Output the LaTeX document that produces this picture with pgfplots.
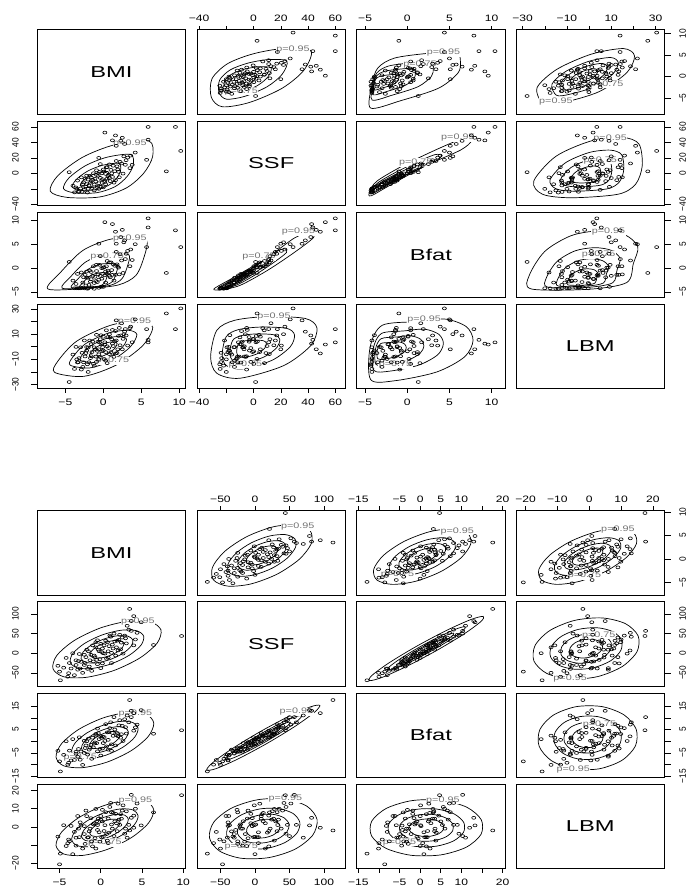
\documentclass[border=0pt]{standalone}
\usepackage{fontspec}
\usepackage{pgfplots}
\usepackage{pgfplotstable}
\pgfplotsset{compat=1.18}
\newfontfamily\fwide{Liberation Sans}[FakeStretch=1.3]
\newfontfamily\fdiag{Liberation Sans}[FakeStretch=1.5]
\newfontfamily\frot{Liberation Sans}[FakeStretch=0.9]
\newfontfamily\fpl{Liberation Sans}[FakeStretch=1.35]

\pgfplotsset{
 pan/.style={scale only axis, width=148.4bp, height=84.3bp, anchor=north west,
   xtick=\empty, ytick=\empty, axis line style={line width=0.75bp}, clip mode=individual},
 ct/.style={black, line width=0.7bp, smooth cycle, no markers},
 pts/.style={only marks, mark=o, mark size=1.45bp, mark options={xscale=1.4, line width=0.6bp, black, solid}},
}
\tikzset{
 tk/.style={line width=0.6bp},
 hl/.style={font=\fwide\fontsize{9.3bp}{11bp}\selectfont, inner sep=0pt},
 vl/.style={font=\frot\fontsize{9.3bp}{11bp}\selectfont, inner sep=0pt, rotate=90},
 pl/.style={font=\fpl\fontsize{8bp}{9bp}\selectfont, text=black!55, inner sep=0.5pt, fill=white},
 dg/.style={font=\fdiag\fontsize{15.8bp}{18bp}\selectfont},
}
\newcommand\xtop[3]{%
 \draw[tk] foreach \tkv in {#2} {(axis cs:\tkv,#1) -- ([yshift=4.3bp]axis cs:\tkv,#1)};
 \path foreach \tkv/\tkl in {#3} {([yshift=8.6bp]axis cs:\tkv,#1) node[hl,anchor=base] {\tkl}};}
\newcommand\xbot[3]{%
 \draw[tk] foreach \tkv in {#2} {(axis cs:\tkv,#1) -- ([yshift=-5bp]axis cs:\tkv,#1)};
 \path foreach \tkv/\tkl in {#3} {([yshift=-16.7bp]axis cs:\tkv,#1) node[hl,anchor=base] {\tkl}};}
\newcommand\yleft[3]{%
 \draw[tk] foreach \tkv in {#2} {(axis cs:#1,\tkv) -- ([xshift=-6.7bp]axis cs:#1,\tkv)};
 \path foreach \tkv/\tkl in {#3} {([xshift=-18.7bp]axis cs:#1,\tkv) node[vl,anchor=base] {\tkl}};}
\newcommand\yright[3]{%
 \draw[tk] foreach \tkv in {#2} {(axis cs:#1,\tkv) -- ([xshift=6.5bp]axis cs:#1,\tkv)};
 \path foreach \tkv/\tkl in {#3} {([xshift=21.5bp]axis cs:#1,\tkv) node[vl,anchor=base] {\tkl}};}

% ranges
\def\tbmin{-8.7}\def\tbmax{10.85}
\def\tsmin{-41.5}\def\tsmax{67.4}
\def\tfmin{-6.0}\def\tfmax{11.6}
\def\tlmin{-33}\def\tlmax{34}
\def\bbmin{-7.7}\def\bbmax{10.3}
\def\bsmin{-84}\def\bsmax{131}
\def\bfmin{-15.4}\def\bfmax{20.6}
\def\blmin{-23}\def\blmax{23.6}

% ---------------- data: top (b = BMI, s = SSF, f = Bfat, l = LBM)
\pgfplotstableread{
b s f l
-4.0 -16 -2.6 -6.2
-3.8 -24.5 -4.2 -17.6
-3.6 -18.2 -3.3 -0.1
-3.4 -9.3 -1.2 -12.5
-3.2 -23.4 -4.2 -9.0
-3.0 -19.5 -4.2 -0.4
-2.9 -5.1 -0.9 -18.1
-2.8 -23.8 -4.1 -4.8
-2.6 -11.7 -1.9 -12.3
-2.5 -21.3 -4.2 5.0
-2.4 -6.8 -1.4 -7.7
-2.2 -13.9 -2.0 -0.2
-2.1 -24.8 -4.3 -13.9
-2.0 -8.0 -2.0 -0.6
-1.9 -15.6 -3.5 -12.3
-1.8 -3.1 -0.5 5.0
-1.6 -5.2 -0.8 -7.5
-1.5 -18.8 -4.0 -4.2
-1.4 -8.3 -1.6 4.1
-1.3 0.2 0.4 -13.6
-1.2 -14.4 -3.1 -0.4
-1.0 -10.5 -2.7 -7.8
-0.9 4.0 0.7 9.5
-0.8 -17.6 -2.9 -3.2
-0.7 -3.2 -1.3 4.0
-0.6 -12.7 -2.4 -9.7
-0.5 1.8 0.7 3.6
-0.4 -5.8 -1.6 -8.1
-0.3 -17.4 -3.9 9.2
-0.2 0.1 0.0 -3.6
-0.1 -7.5 -1.2 -0.3
0.0 5.0 0.1 8.0
0.1 2.5 0.2 -9.7
0.2 -11.1 -1.5 3.6
0.3 -0.7 -0.7 -4.2
0.4 7.8 0.4 13.1
0.5 -6.8 -1.2 0.4
0.6 -3.3 -0.5 7.7
0.8 11.6 1.2 -5.8
0.9 -10.0 -1.9 7.5
1.0 4.5 1.2 -4.2
1.2 -4.6 -1.4 13.4
1.3 9.9 0.8 0.6
1.5 2.8 0.5 4.2
1.6 -8.8 -1.4 12.5
1.8 9.1 0.8 -5.0
2.0 2.0 0.1 8.6
2.2 14.9 2.9 1.2
2.4 12.8 1.6 18.7
2.6 -0.3 -1.0 6.3
2.9 11.1 1.9 14.1
3.2 20.4 3.6 1.0
3.5 6.8 0.4 14.8
3.8 11.1 1.7 3.6
4.2 26.9 5.0 21.8
-3.3 -24.0 -4.2 -12.2
-2.3 -17 -3.6 -5
-1.7 -12 -2.8 -9
-1.1 -7 -1.8 -2
-0.6 -20 -4.1 -6
-0.2 -9 -2.2 2
0.3 -14 -3.0 -11
0.7 -2 -0.9 -1
1.1 0 -0.4 6
1.4 -12 -2.6 -8
-2.7 -14 -3.0 -16
-3.5 -20 -4.2 -10
-1.2 -22 -4.3 -15
0.0 -18 -3.9 -3
0.8 -6 -1.6 10
1.9 5 0.3 -2
2.1 -5 -1.3 15
-0.9 -2 -0.6 -12
-1.6 -10 -2.3 2
-2.2 -3 -0.7 -3
0.5 8 1.5 -13
1.7 16 3.4 5
-0.4 12 2.5 6
3.0 17 3.0 9
-2.0 -20 -4.2 -20
10.2 29 4.4 30.5
9.5 60 7.9 14
5.9 60 10.4 3.5
8.3 2.6 -1.0 26.5
0.2 52.7 9.6 1.8
-4.5 1.5 1.3 -28
1.2 42.6 9.2 2.5
5.9 43.5 8.5 5.5
1.6 49 7.6 -5.3
1.7 35.6 5.1 21
5.7 17.5 4.4 14
2.7 22 5.4 10
-0.6 20 5.1 -2
3.6 23 3.9 16
2.8 38 5.8 12
2.3 42 6.5 9
2.5 46 8.0 -2
}\topdata

% ---------------- data: bottom
\pgfplotstableread{
b s f l
-5.2 -32 -4.1 -5.4
-4.9 -69 -12.9 -14.8
-4.5 -37 -5.8 0.9
-4.2 -12 0.0 -10.6
-3.9 -51 -9.2 -7.0
-3.6 -39 -8.2 0.5
-3.4 0 0.9 -15.1
-3.2 -56 -8.0 -2.8
-3.0 -18 -4.5 -10.4
-2.8 -42 -6.6 6.0
-2.6 -2 1.7 -5.7
-2.4 -22 -4.4 0.7
-2.2 -50 -10.1 -12.0
-2.0 -4 0.2 0.4
-1.9 -25 -2.9 -9.4
-1.7 9 0.0 5.9
-1.5 5 1.1 -5.7
-1.4 -34 -3.6 -2.5
-1.2 -4 -1.5 4.8
-1.0 20 1.5 -10.8
-0.9 -21 -2.6 1.4
-0.7 -10 -0.5 -6.3
-0.6 28 3.1 9.9
-0.4 -28 -4.3 -1.7
-0.3 9 3.5 4.5
-0.1 -15 -3.3 -8.2
0.0 24 2.2 4.0
0.1 3 1.4 -5.8
0.2 -26 -3.1 9.4
0.4 20 1.8 -2.3
0.5 -1 0.1 0.9
0.6 32 7.3 8.1
0.8 28 3.8 -7.6
0.9 -11 -3.6 4.6
1.0 18 3.9 -3.2
1.2 42 8.1 13.2
1.3 1 -1.3 1.3
1.5 12 2.3 7.7
1.6 50 10.3 -5.1
1.8 -6 -1.8 7.2
2.0 32 3.5 -2.4
2.1 7 2.1 12.8
2.3 47 9.0 1.1
2.5 27 3.0 4.5
2.7 -1 0.1 11.9
2.9 45 9.4 -3.8
3.1 25 3.3 8.6
3.4 60 8.1 1.1
3.7 57 10.3 17.7
4.0 20 4.5 6.2
4.4 52 7.1 12.9
4.9 79 13.3 0.8
-0.5 -17 -0.8 3.1
0.3 0 -0.8 -5.5
1.1 45 5.6 11.0
-1.6 -40 -5.7 -5.9
2.2 34 6.8 4.0
-2.5 -39 -7.9 2.5
-2.0 -30 -5.0 -4
-1.3 -18 -2.8 -1
-0.8 -6 -1.0 2
-0.2 5 0.9 -3
0.2 12 2.0 3
0.7 -14 -2.2 -4
1.4 22 3.6 -1
1.9 15 2.6 2
-1.1 -45 -7.5 -8
-3.0 -30 -5.3 -6
2.6 40 6.6 9
0.0 -38 -6.1 6
-0.6 15 2.4 -12
1.7 30 5.0 3
-2.7 -20 -3.3 -1
3.0 38 6.0 -1
-1.8 -10 -1.8 9
0.9 5 0.6 -9
2.4 10 1.5 7
-3.8 -25 -4.0 -8
-0.4 33 5.4 1
1.3 -25 -4.1 8
4.2 35 5.9 10
-4.0 -60 -10.0 -9
9.8 44 4.7 17.5
3.5 113 17.6 -2
-5.0 -47 -8.6 -20.7
4.0 94.6 12 -0.5
6.4 21 3.2 8
3.7 82 13 5
3.2 70 11 -6
}\botdata

% ---------------- contours, top matrix (x = column variable of lower panel)
\pgfplotstableread{
x y
-7.0 -23
-4.8 -31
-0.5 -30.5
3.0 -19
5.3 0
6.5 22
6.0 42
1.5 37
-2.7 21
-6.0 -3
}\TBSa
\pgfplotstableread{
x y
-5.24 -19.8
-3.74 -25.24
-0.82 -24.9
1.56 -17.08
3.12 -4.16
3.94 10.8
3.6 24.4
0.54 21
-2.32 10.12
-4.56 -6.2
}\TBSb
\pgfplotstableread{
x y
-4.09 -17.7
-3.05 -21.46
-1.03 -21.23
0.62 -15.82
1.7 -6.89
2.26 3.45
2.03 12.85
-0.09 10.5
-2.06 2.98
-3.62 -8.3
}\TBSc
\pgfplotstableread{
x y
-3.04 -15.8
-2.42 -18.04
-1.22 -17.9
-0.24 -14.68
0.4 -9.36
0.74 -3.2
0.6 2.4
-0.66 1
-1.84 -3.48
-2.76 -10.2
}\TBSd
\pgfplotstableread{
x y
-7.3 -4.35
-2.0 -4.2
2.0 -3.5
4.3 -1.5
5.4 2.5
5.7 5.8
3.5 6.3
0.8 6.0
-2.7 3.7
-5.6 -0.8
}\TBFa
\pgfplotstableread{
x y
-5.44 -4.17
-1.84 -4.07
0.88 -3.6
2.44 -2.24
3.19 0.48
3.4 2.73
1.9 3.07
0.06 2.86
-2.32 1.3
-4.29 -1.76
}\TBFb
\pgfplotstableread{
x y
-4.23 -4.06
-1.74 -3.99
0.15 -3.66
1.23 -2.72
1.74 -0.84
1.88 0.71
0.85 0.95
-0.42 0.81
-2.06 -0.27
-3.43 -2.39
}\TBFc
\pgfplotstableread{
x y
-3.12 -3.95
-1.64 -3.91
-0.52 -3.72
0.12 -3.16
0.43 -2.04
0.52 -1.11
-0.1 -0.97
-0.86 -1.06
-1.84 -1.7
-2.65 -2.96
}\TBFd
\pgfplotstableread{
x y
-29 -4.3
-15 -2.0
10 2.2
30 6.3
42 7.6
44 6.4
30 3.3
10 -0.5
-10 -3.6
-24 -4.5
}\TSFa
\pgfplotstableread{
x y
-25.48 -4.01
-15.96 -2.45
1.04 0.41
14.64 3.2
22.8 4.08
24.16 3.26
14.64 1.16
1.04 -1.43
-12.56 -3.54
-22.08 -4.15
}\TSFb
\pgfplotstableread{
x y
-23.17 -3.82
-16.59 -2.74
-4.84 -0.77
4.56 1.16
10.2 1.77
11.14 1.21
4.56 -0.25
-4.84 -2.04
-14.24 -3.49
-20.82 -3.92
}\TSFc
\pgfplotstableread{
x y
-21.08 -3.65
-17.16 -3.01
-10.16 -1.83
-4.56 -0.68
-1.2 -0.32
-0.64 -0.66
-4.56 -1.52
-10.16 -2.59
-15.76 -3.46
-19.68 -3.71
}\TSFd
\pgfplotstableread{
x y
-6.4 -20.4
-2.6 -23.5
1.7 -14.5
5.2 1.0
6.5 15.5
4.8 20.5
0.9 17
-3.5 4.5
-6.0 -11.5
}\TBLa
\pgfplotstableread{
x y
-4.35 -14.67
-1.77 -16.78
1.16 -10.66
3.54 -0.12
4.42 9.74
3.26 13.14
0.61 10.76
-2.38 2.26
-4.08 -8.62
}\TBLb
\pgfplotstableread{
x y
-3.01 -10.91
-1.22 -12.37
0.8 -8.14
2.44 -0.85
3.06 5.96
2.26 8.31
0.42 6.67
-1.65 0.79
-2.82 -6.73
}\TBLc
\pgfplotstableread{
x y
-1.79 -7.51
-0.73 -8.38
0.48 -5.86
1.46 -1.52
1.82 2.54
1.34 3.94
0.25 2.96
-0.98 -0.54
-1.68 -5.02
}\TBLd
\pgfplotstableread{
x y
-31.5 -8
-27 -21
-10 -25
22 -15
42 1
46.5 15
38 22.5
10 24
-14 21
-27 13
}\TSLa
\pgfplotstableread{
x y
-23.02 -6.08
-19.96 -14.92
-8.4 -17.64
13.36 -10.84
26.96 0.04
30.02 9.56
24.24 14.66
5.2 15.68
-11.12 13.64
-19.96 8.2
}\TSLb
\pgfplotstableread{
x y
-17.46 -4.82
-15.34 -10.93
-7.35 -12.81
7.69 -8.11
17.09 -0.59
19.21 5.99
15.21 9.52
2.05 10.22
-9.23 8.81
-15.34 5.05
}\TSLc
\pgfplotstableread{
x y
-12.42 -3.68
-11.16 -7.32
-6.4 -8.44
2.56 -5.64
8.16 -1.16
9.42 2.76
7.04 4.86
-0.8 5.28
-7.52 4.44
-11.16 2.2
}\TSLd
\pgfplotstableread{
x y
-4.35 -26
-1.5 -27
3.5 -20
6.8 -8
7.8 5
7.0 16
4.5 22
1.0 20
-3.0 17
-4.4 0
}\TFLa
\pgfplotstableread{
x y
-3.98 -18.64
-2.04 -19.32
1.36 -14.56
3.6 -6.4
4.28 2.44
3.74 9.92
2.04 14
-0.34 12.64
-3.06 10.6
-4.02 -0.96
}\TFLb
\pgfplotstableread{
x y
-3.74 -13.81
-2.4 -14.28
-0.05 -10.99
1.5 -5.35
1.97 0.76
1.59 5.93
0.42 8.75
-1.23 7.81
-3.11 6.4
-3.76 -1.59
}\TFLc
\pgfplotstableread{
x y
-3.52 -9.44
-2.72 -9.72
-1.32 -7.76
-0.4 -4.4
-0.12 -0.76
-0.34 2.32
-1.04 4
-2.02 3.44
-3.14 2.6
-3.54 -2.16
}\TFLd

% ---------------- contours, bottom matrix
\pgfplotstableread{
x y
6.0 80
7.3 59.6
6.84 25.95
4.75 -12
1.59 -44.05
-1.8 -61.62
-4.5 -60
-5.8 -39.62
-5.34 -5.95
-3.25 32
-0.09 64.05
3.3 81.62
}\BBSa
\pgfplotstableread{
x y
4.32 57.6
5.2 43.74
4.89 20.85
3.47 -4.96
1.32 -26.75
-0.98 -38.7
-2.82 -37.6
-3.7 -23.74
-3.39 -0.85
-1.97 24.96
0.18 46.75
2.48 58.7
}\BBSb
\pgfplotstableread{
x y
3.27 43.6
3.89 33.82
3.67 17.66
2.67 -0.56
1.15 -15.94
-0.47 -24.38
-1.77 -23.6
-2.39 -13.82
-2.17 2.34
-1.17 20.56
0.35 35.94
1.97 44.38
}\BBSc
\pgfplotstableread{
x y
2.38 31.7
2.78 25.38
2.64 14.94
1.99 3.18
1.01 -6.76
-0.04 -12.2
-0.88 -11.7
-1.28 -5.38
-1.14 5.06
-0.49 16.82
0.49 26.76
1.54 32.2
}\BBSd
\pgfplotstableread{
x y
5.5 11.5
6.43 7.78
5.77 2.1
3.7 -4.0
0.77 -8.9
-2.23 -11.28
-4.5 -10.5
-5.43 -6.78
-4.77 -1.1
-2.7 5.0
0.23 9.9
3.23 12.28
}\BBFa
\pgfplotstableread{
x y
3.9 7.98
4.53 5.45
4.08 1.59
2.68 -2.56
0.68 -5.89
-1.36 -7.51
-2.9 -6.98
-3.53 -4.45
-3.08 -0.59
-1.68 3.56
0.32 6.89
2.36 8.51
}\BBFb
\pgfplotstableread{
x y
2.9 5.78
3.35 3.99
3.03 1.27
2.04 -1.66
0.63 -4.01
-0.81 -5.15
-1.9 -4.78
-2.35 -2.99
-2.03 -0.27
-1.04 2.66
0.37 5.01
1.81 6.15
}\BBFc
\pgfplotstableread{
x y
2.05 3.91
2.34 2.76
2.13 1.0
1.49 -0.9
0.58 -2.41
-0.35 -3.15
-1.05 -2.91
-1.34 -1.76
-1.13 0.0
-0.49 1.9
0.42 3.41
1.35 4.15
}\BBFd
\pgfplotstableread{
x y
94 15.3
80.51 14.7
48.67 10.57
7 4.0
-33.33 -3.23
-61.51 -9.2
-70 -12.3
-56.51 -11.7
-24.67 -7.57
17 -1.0
57.33 6.23
85.51 12.2
}\BSFa
\pgfplotstableread{
x y
67.76 10.88
58.59 10.48
36.94 7.67
8.6 3.2
-18.82 -1.72
-37.99 -5.78
-43.76 -7.88
-34.59 -7.48
-12.94 -4.67
15.4 -0.2
42.82 4.72
61.99 8.78
}\BSFb
\pgfplotstableread{
x y
51.36 8.12
44.88 7.84
29.6 5.85
9.6 2.7
-9.76 -0.77
-23.28 -3.64
-27.36 -5.12
-20.88 -4.84
-5.6 -2.85
14.4 0.3
33.76 3.77
47.28 6.64
}\BSFc
\pgfplotstableread{
x y
37.42 5.78
33.24 5.59
23.37 4.31
10.45 2.28
-2.05 0.03
-10.79 -1.82
-13.42 -2.78
-9.24 -2.59
0.63 -1.31
13.55 0.72
26.05 2.97
34.79 4.82
}\BSFd
\pgfplotstableread{
x y
5.5 14.0
6.43 9.31
5.77 1.99
3.7 -6.0
0.77 -12.51
-2.23 -15.81
-4.5 -15.0
-5.43 -10.31
-4.77 -2.99
-2.7 5.0
0.23 11.51
3.23 14.81
}\BBLa
\pgfplotstableread{
x y
3.9 9.36
4.53 6.17
4.08 1.19
2.68 -4.24
0.68 -8.67
-1.36 -10.91
-2.9 -10.36
-3.53 -7.17
-3.08 -2.19
-1.68 3.24
0.32 7.67
2.36 9.91
}\BBLb
\pgfplotstableread{
x y
2.9 6.46
3.35 4.21
3.03 0.7
2.04 -3.14
0.63 -6.26
-0.81 -7.85
-1.9 -7.46
-2.35 -5.21
-2.03 -1.7
-1.04 2.14
0.37 5.26
1.81 6.85
}\BBLc
\pgfplotstableread{
x y
2.05 4.0
2.34 2.54
2.13 0.27
1.49 -2.21
0.58 -4.22
-0.35 -5.25
-1.05 -5.0
-1.34 -3.54
-1.13 -1.27
-0.49 1.21
0.42 3.22
1.35 4.25
}\BBLd
\pgfplotstableread{
x y
90 4
75.55 11.33
44.07 15.36
4 15
-33.93 10.36
-59.55 2.67
-66 -6
-51.55 -13.33
-20.07 -17.36
20 -17
57.93 -12.36
83.55 -4.67
}\BSLa
\pgfplotstableread{
x y
65.04 2.4
55.21 7.38
33.81 10.12
6.56 9.88
-19.23 6.72
-36.65 1.5
-41.04 -4.4
-31.21 -9.38
-9.81 -12.12
17.44 -11.88
43.23 -8.72
60.65 -3.5
}\BSLb
\pgfplotstableread{
x y
49.44 1.4
42.5 4.92
27.39 6.85
8.16 6.68
-10.05 4.45
-22.34 0.76
-25.44 -3.4
-18.5 -6.92
-3.39 -8.85
15.84 -8.68
34.05 -6.45
46.34 -2.76
}\BSLc
\pgfplotstableread{
x y
36.18 0.55
31.7 2.82
21.94 4.07
9.52 3.96
-2.24 2.52
-10.18 0.14
-12.18 -2.55
-7.7 -4.82
2.06 -6.07
14.48 -5.96
26.24 -4.52
34.18 -2.14
}\BSLd
\pgfplotstableread{
x y
14.8 4.0
11.27 10.9
5.12 14.74
-2.0 14.5
-8.18 10.24
-11.77 3.1
-11.8 -5.0
-8.27 -11.9
-2.12 -15.74
5.0 -15.5
11.18 -11.24
14.77 -4.1
}\BFLa
\pgfplotstableread{
x y
10.54 2.56
8.14 7.25
3.96 9.86
-0.88 9.7
-5.08 6.8
-7.52 1.95
-7.54 -3.56
-5.14 -8.25
-0.96 -10.86
3.88 -10.7
8.08 -7.8
10.52 -2.95
}\BFLb
\pgfplotstableread{
x y
7.88 1.66
6.19 4.97
3.24 6.82
-0.18 6.7
-3.15 4.66
-4.87 1.23
-4.88 -2.66
-3.19 -5.97
-0.24 -7.82
3.18 -7.7
6.15 -5.66
7.87 -2.23
}\BFLc
\pgfplotstableread{
x y
5.62 0.9
4.53 3.03
2.62 4.22
0.41 4.15
-1.5 2.83
-2.61 0.62
-2.62 -1.9
-1.53 -4.03
0.38 -5.22
2.59 -5.15
4.5 -3.83
5.61 -1.62
}\BFLd

\begin{document}
\begin{tikzpicture}
\useasboundingbox (0,0) rectangle (688bp,-886bp);
% ======================= TOP MATRIX =======================
% row 1
\begin{axis}[pan,at={(37.3bp,-29.8bp)},xmin=0,xmax=1,ymin=0,ymax=1]
\node[dg] at (axis cs:0.5,0.5) {BMI};
\end{axis}
\begin{axis}[pan,at={(197bp,-29.8bp)},xmin=\tsmin,xmax=\tsmax,ymin=\tbmin,ymax=\tbmax]
\addplot[ct] table[x=y,y=x]{\TBSa};
\addplot[ct] table[x=y,y=x]{\TBSb};
\addplot[ct] table[x=y,y=x]{\TBSc};
\addplot[ct] table[x=y,y=x]{\TBSd};
\node[pl] at (axis cs:29,6.3) {p=0.95};
\node[pl] at (axis cs:-9,-3.4) {p=0.75};
\addplot[pts] table[x=s,y=b]{\topdata};
\xtop{\tbmax}{-40,-20,0,20,40,60}{-40/−40,0/0,20/20,40/40,60/60}
\end{axis}
\begin{axis}[pan,at={(356.7bp,-29.8bp)},xmin=\tfmin,xmax=\tfmax,ymin=\tbmin,ymax=\tbmax]
\addplot[ct] table[x=y,y=x]{\TBFa};
\addplot[ct] table[x=y,y=x]{\TBFb};
\addplot[ct] table[x=y,y=x]{\TBFc};
\addplot[ct] table[x=y,y=x]{\TBFd};
\node[pl] at (axis cs:4.3,5.6) {p=0.95};
\node[pl] at (axis cs:1.5,2.9) {p=0.75};
\addplot[pts] table[x=f,y=b]{\topdata};
\xtop{\tbmax}{-5,0,5,10}{-5/−5,0/0,5/5,10/10}
\end{axis}
\begin{axis}[pan,at={(516bp,-29.8bp)},xmin=\tlmin,xmax=\tlmax,ymin=\tbmin,ymax=\tbmax]
\addplot[ct] table[x=y,y=x]{\TBLa};
\addplot[ct] table[x=y,y=x]{\TBLb};
\addplot[ct] table[x=y,y=x]{\TBLc};
\addplot[ct] table[x=y,y=x]{\TBLd};
\node[pl] at (axis cs:-15,-5.8) {p=0.95};
\node[pl] at (axis cs:8,-1.8) {p=0.75};
\addplot[pts] table[x=l,y=b]{\topdata};
\xtop{\tbmax}{-30,-20,-10,0,10,20,30}{-30/−30,-10/−10,10/10,30/30}
\yright{\tlmax}{-5,0,5,10}{-5/−5,0/0,5/5,10/10}
\end{axis}
% row 2
\begin{axis}[pan,at={(37.3bp,-121.2bp)},xmin=\tbmin,xmax=\tbmax,ymin=\tsmin,ymax=\tsmax]
\addplot[ct] table{\TBSa};
\addplot[ct] table{\TBSb};
\addplot[ct] table{\TBSc};
\addplot[ct] table{\TBSd};
\node[pl] at (axis cs:3.5,38) {p=0.95};
\addplot[pts] table[x=b,y=s]{\topdata};
\yleft{\tbmin}{-40,-20,0,20,40,60}{-40/−40,0/0,20/20,40/40,60/60}
\end{axis}
\begin{axis}[pan,at={(197bp,-121.2bp)},xmin=0,xmax=1,ymin=0,ymax=1]
\node[dg] at (axis cs:0.5,0.5) {SSF};
\end{axis}
\begin{axis}[pan,at={(356.7bp,-121.2bp)},xmin=\tfmin,xmax=\tfmax,ymin=\tsmin,ymax=\tsmax]
\addplot[ct] table[x=y,y=x]{\TSFa};
\addplot[ct] table[x=y,y=x]{\TSFb};
\addplot[ct] table[x=y,y=x]{\TSFc};
\addplot[ct] table[x=y,y=x]{\TSFd};
\node[pl] at (axis cs:6.0,46) {p=0.95};
\node[pl] at (axis cs:1.0,14) {p=0.75};
\addplot[pts] table[x=f,y=s]{\topdata};
\end{axis}
\begin{axis}[pan,at={(516bp,-121.2bp)},xmin=\tlmin,xmax=\tlmax,ymin=\tsmin,ymax=\tsmax]
\addplot[ct] table[x=y,y=x]{\TSLa};
\addplot[ct] table[x=y,y=x]{\TSLb};
\addplot[ct] table[x=y,y=x]{\TSLc};
\addplot[ct] table[x=y,y=x]{\TSLd};
\node[pl] at (axis cs:9.5,45) {p=0.95};
\node[pl] at (axis cs:5,17) {p=0.75};
\addplot[pts] table[x=l,y=s]{\topdata};
\yright{\tlmax}{-40,-20,0,20,40,60}{-40/−40,0/0,20/20,40/40,60/60}
\end{axis}
% row 3
\begin{axis}[pan,at={(37.3bp,-212.6bp)},xmin=\tbmin,xmax=\tbmax,ymin=\tfmin,ymax=\tfmax]
\addplot[ct] table{\TBFa};
\addplot[ct] table{\TBFb};
\addplot[ct] table{\TBFc};
\addplot[ct] table{\TBFd};
\node[pl] at (axis cs:3.5,6.2) {p=0.95};
\node[pl] at (axis cs:0.5,2.5) {p=0.75};
\addplot[pts] table[x=b,y=f]{\topdata};
\yleft{\tbmin}{-5,0,5,10}{-5/−5,0/0,5/5,10/10}
\end{axis}
\begin{axis}[pan,at={(197bp,-212.6bp)},xmin=\tsmin,xmax=\tsmax,ymin=\tfmin,ymax=\tfmax]
\addplot[ct] table{\TSFa};
\addplot[ct] table{\TSFb};
\addplot[ct] table{\TSFc};
\addplot[ct] table{\TSFd};
\node[pl] at (axis cs:33,7.6) {p=0.95};
\node[pl] at (axis cs:4,2.4) {p=0.75};
\addplot[pts] table[x=s,y=f]{\topdata};
\end{axis}
\begin{axis}[pan,at={(356.7bp,-212.6bp)},xmin=0,xmax=1,ymin=0,ymax=1]
\node[dg] at (axis cs:0.5,0.5) {Bfat};
\end{axis}
\begin{axis}[pan,at={(516bp,-212.6bp)},xmin=\tlmin,xmax=\tlmax,ymin=\tfmin,ymax=\tfmax]
\addplot[ct] table[x=y,y=x]{\TFLa};
\addplot[ct] table[x=y,y=x]{\TFLb};
\addplot[ct] table[x=y,y=x]{\TFLc};
\addplot[ct] table[x=y,y=x]{\TFLd};
\node[pl] at (axis cs:8.8,7.6) {p=0.95};
\node[pl] at (axis cs:4.3,2.8) {p=0.75};
\addplot[pts] table[x=l,y=f]{\topdata};
\yright{\tlmax}{-5,0,5,10}{-5/−5,0/0,5/5,10/10}
\end{axis}
% row 4
\begin{axis}[pan,at={(37.3bp,-304bp)},xmin=\tbmin,xmax=\tbmax,ymin=\tlmin,ymax=\tlmax]
\addplot[ct] table{\TBLa};
\addplot[ct] table{\TBLb};
\addplot[ct] table{\TBLc};
\addplot[ct] table{\TBLd};
\node[pl] at (axis cs:4.1,20) {p=0.95};
\node[pl] at (axis cs:1.2,-11) {p=0.75};
\addplot[pts] table[x=b,y=l]{\topdata};
\yleft{\tbmin}{-30,-20,-10,0,10,20,30}{-30/−30,-10/−10,10/10,30/30}
\xbot{\tlmin}{-5,0,5,10}{-5/−5,0/0,5/5,10/10}
\end{axis}
\begin{axis}[pan,at={(197bp,-304bp)},xmin=\tsmin,xmax=\tsmax,ymin=\tlmin,ymax=\tlmax]
\addplot[ct] table{\TSLa};
\addplot[ct] table{\TSLb};
\addplot[ct] table{\TSLc};
\addplot[ct] table{\TSLd};
\node[pl] at (axis cs:15,24) {p=0.95};
\node[pl] at (axis cs:-6,-14) {p=0.75};
\addplot[pts] table[x=s,y=l]{\topdata};
\xbot{\tlmin}{-40,-20,0,20,40,60}{-40/−40,0/0,20/20,40/40,60/60}
\end{axis}
\begin{axis}[pan,at={(356.7bp,-304bp)},xmin=\tfmin,xmax=\tfmax,ymin=\tlmin,ymax=\tlmax]
\addplot[ct] table{\TFLa};
\addplot[ct] table{\TFLb};
\addplot[ct] table{\TFLc};
\addplot[ct] table{\TFLd};
\node[pl] at (axis cs:2,21.5) {p=0.95};
\node[pl] at (axis cs:-1.4,-14) {p=0.75};
\addplot[pts] table[x=f,y=l]{\topdata};
\xbot{\tlmin}{-5,0,5,10}{-5/−5,0/0,5/5,10/10}
\end{axis}
\begin{axis}[pan,at={(516bp,-304bp)},xmin=0,xmax=1,ymin=0,ymax=1]
\node[dg] at (axis cs:0.5,0.5) {LBM};
\end{axis}

% ======================= BOTTOM MATRIX =======================
% row 1
\begin{axis}[pan,at={(37.3bp,-510.7bp)},xmin=0,xmax=1,ymin=0,ymax=1]
\node[dg] at (axis cs:0.5,0.5) {BMI};
\end{axis}
\begin{axis}[pan,at={(197bp,-510.7bp)},xmin=\bsmin,xmax=\bsmax,ymin=\bbmin,ymax=\bbmax]
\addplot[ct] table[x=y,y=x]{\BBSa};
\addplot[ct] table[x=y,y=x]{\BBSb};
\addplot[ct] table[x=y,y=x]{\BBSc};
\addplot[ct] table[x=y,y=x]{\BBSd};
\node[pl] at (axis cs:62,6.9) {p=0.95};
\addplot[pts] table[x=s,y=b]{\botdata};
\xtop{\bbmax}{-50,0,50,100}{-50/−50,0/0,50/50,100/100}
\end{axis}
\begin{axis}[pan,at={(356.7bp,-510.7bp)},xmin=\bfmin,xmax=\bfmax,ymin=\bbmin,ymax=\bbmax]
\addplot[ct] table[x=y,y=x]{\BBFa};
\addplot[ct] table[x=y,y=x]{\BBFb};
\addplot[ct] table[x=y,y=x]{\BBFc};
\addplot[ct] table[x=y,y=x]{\BBFd};
\node[pl] at (axis cs:9,5.9) {p=0.95};
\node[pl] at (axis cs:-5.5,-3.4) {p=0.75};
\addplot[pts] table[x=f,y=b]{\botdata};
\xtop{\bbmax}{-15,-10,-5,0,5,10,15,20}{-15/−15,-5/−5,0/0,5/5,10/10,20/20}
\end{axis}
\begin{axis}[pan,at={(516bp,-510.7bp)},xmin=\blmin,xmax=\blmax,ymin=\bbmin,ymax=\bbmax]
\addplot[ct] table[x=y,y=x]{\BBLa};
\addplot[ct] table[x=y,y=x]{\BBLb};
\addplot[ct] table[x=y,y=x]{\BBLc};
\addplot[ct] table[x=y,y=x]{\BBLd};
\node[pl] at (axis cs:9,6.2) {p=0.95};
\node[pl] at (axis cs:-1.5,-3.6) {p=0.75};
\addplot[pts] table[x=l,y=b]{\botdata};
\xtop{\bbmax}{-20,-10,0,10,20}{-20/−20,-10/−10,0/0,10/10,20/20}
\yright{\blmax}{-5,0,5,10}{-5/−5,0/0,5/5,10/10}
\end{axis}
% row 2
\begin{axis}[pan,at={(37.3bp,-601.85bp)},xmin=\bbmin,xmax=\bbmax,ymin=\bsmin,ymax=\bsmax]
\addplot[ct] table{\BBSa};
\addplot[ct] table{\BBSb};
\addplot[ct] table{\BBSc};
\addplot[ct] table{\BBSd};
\node[pl] at (axis cs:4.5,80) {p=0.95};
\addplot[pts] table[x=b,y=s]{\botdata};
\yleft{\bbmin}{-50,0,50,100}{-50/−50,0/0,50/50,100/100}
\end{axis}
\begin{axis}[pan,at={(197bp,-601.85bp)},xmin=0,xmax=1,ymin=0,ymax=1]
\node[dg] at (axis cs:0.5,0.5) {SSF};
\end{axis}
\begin{axis}[pan,at={(356.7bp,-601.85bp)},xmin=\bfmin,xmax=\bfmax,ymin=\bsmin,ymax=\bsmax]
\addplot[ct] table[x=y,y=x]{\BSFa};
\addplot[ct] table[x=y,y=x]{\BSFb};
\addplot[ct] table[x=y,y=x]{\BSFc};
\addplot[ct] table[x=y,y=x]{\BSFd};
\addplot[pts] table[x=f,y=s]{\botdata};
\end{axis}
\begin{axis}[pan,at={(516bp,-601.85bp)},xmin=\blmin,xmax=\blmax,ymin=\bsmin,ymax=\bsmax]
\addplot[ct] table[x=y,y=x]{\BSLa};
\addplot[ct] table[x=y,y=x]{\BSLb};
\addplot[ct] table[x=y,y=x]{\BSLc};
\addplot[ct] table[x=y,y=x]{\BSLd};
\node[pl] at (axis cs:-6,-64) {p=0.95};
\node[pl] at (axis cs:3,46) {p=0.75};
\addplot[pts] table[x=l,y=s]{\botdata};
\yright{\blmax}{-50,0,50,100}{-50/−50,0/0,50/50,100/100}
\end{axis}
% row 3
\begin{axis}[pan,at={(37.3bp,-693bp)},xmin=\bbmin,xmax=\bbmax,ymin=\bfmin,ymax=\bfmax]
\addplot[ct] table{\BBFa};
\addplot[ct] table{\BBFb};
\addplot[ct] table{\BBFc};
\addplot[ct] table{\BBFd};
\node[pl] at (axis cs:4.2,12) {p=0.95};
\node[pl] at (axis cs:-2.5,-6.9) {p=0.75};
\addplot[pts] table[x=b,y=f]{\botdata};
\yleft{\bbmin}{-15,-10,-5,0,5,10,15}{-15/−15,-5/−5,5/5,15/15}
\end{axis}
\begin{axis}[pan,at={(197bp,-693bp)},xmin=\bsmin,xmax=\bsmax,ymin=\bfmin,ymax=\bfmax]
\addplot[ct] table{\BSFa};
\addplot[ct] table{\BSFb};
\addplot[ct] table{\BSFc};
\addplot[ct] table{\BSFd};
\node[pl] at (axis cs:60,12.5) {p=0.95};
\addplot[pts] table[x=s,y=f]{\botdata};
\end{axis}
\begin{axis}[pan,at={(356.7bp,-693bp)},xmin=0,xmax=1,ymin=0,ymax=1]
\node[dg] at (axis cs:0.5,0.5) {Bfat};
\end{axis}
\begin{axis}[pan,at={(516bp,-693bp)},xmin=\blmin,xmax=\blmax,ymin=\bfmin,ymax=\bfmax]
\addplot[ct] table[x=y,y=x]{\BFLa};
\addplot[ct] table[x=y,y=x]{\BFLb};
\addplot[ct] table[x=y,y=x]{\BFLc};
\addplot[ct] table[x=y,y=x]{\BFLd};
\node[pl] at (axis cs:-5,-11.9) {p=0.95};
\node[pl] at (axis cs:3.2,7) {p=0.75};
\addplot[pts] table[x=l,y=f]{\botdata};
\yright{\blmax}{-15,-10,-5,0,5,10,15}{-15/−15,-5/−5,5/5,15/15}
\end{axis}
% row 4
\begin{axis}[pan,at={(37.3bp,-784.15bp)},xmin=\bbmin,xmax=\bbmax,ymin=\blmin,ymax=\blmax]
\addplot[ct] table{\BBLa};
\addplot[ct] table{\BBLb};
\addplot[ct] table{\BBLc};
\addplot[ct] table{\BBLd};
\node[pl] at (axis cs:4.2,14.3) {p=0.95};
\node[pl] at (axis cs:0.5,-8.6) {p=0.75};
\addplot[pts] table[x=b,y=l]{\botdata};
\yleft{\bbmin}{-20,-10,0,10,20}{-20/−20,0/0,10/10,20/20}
\xbot{\blmin}{-5,0,5,10}{-5/−5,0/0,5/5,10/10}
\end{axis}
\begin{axis}[pan,at={(197bp,-784.15bp)},xmin=\bsmin,xmax=\bsmax,ymin=\blmin,ymax=\blmax]
\addplot[ct] table{\BSLa};
\addplot[ct] table{\BSLb};
\addplot[ct] table{\BSLc};
\addplot[ct] table{\BSLd};
\node[pl] at (axis cs:44,15.5) {p=0.95};
\node[pl] at (axis cs:-20,-11) {p=0.75};
\addplot[pts] table[x=s,y=l]{\botdata};
\xbot{\blmin}{-50,0,50,100}{-50/−50,0/0,50/50,100/100}
\end{axis}
\begin{axis}[pan,at={(356.7bp,-784.15bp)},xmin=\bfmin,xmax=\bfmax,ymin=\blmin,ymax=\blmax]
\addplot[ct] table{\BFLa};
\addplot[ct] table{\BFLb};
\addplot[ct] table{\BFLc};
\addplot[ct] table{\BFLd};
\node[pl] at (axis cs:5.5,14.8) {p=0.95};
\node[pl] at (axis cs:-5,-8.4) {p=0.75};
\addplot[pts] table[x=f,y=l]{\botdata};
\xbot{\blmin}{-15,-10,-5,0,5,10,15,20}{-15/−15,-5/−5,0/0,5/5,10/10,20/20}
\end{axis}
\begin{axis}[pan,at={(516bp,-784.15bp)},xmin=0,xmax=1,ymin=0,ymax=1]
\node[dg] at (axis cs:0.5,0.5) {LBM};
\end{axis}
\end{tikzpicture}
\end{document}
